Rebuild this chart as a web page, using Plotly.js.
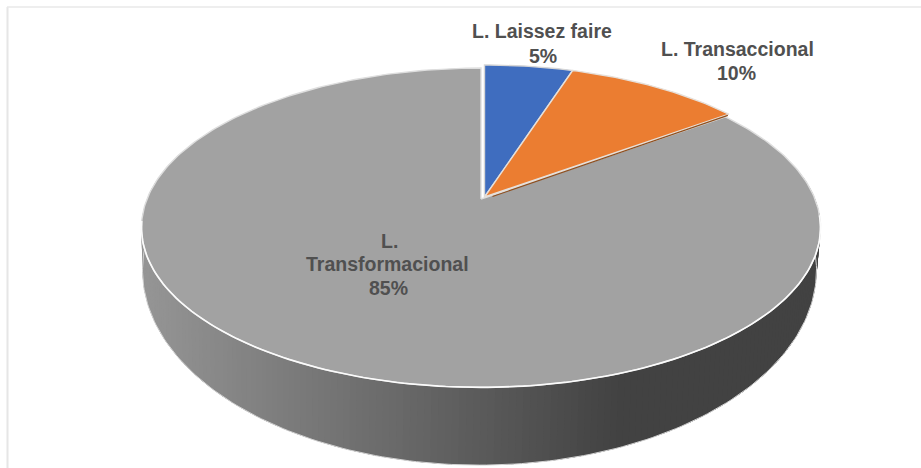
<!DOCTYPE html>
<html>
<head>
<meta charset="utf-8">
<script src="https://cdn.plot.ly/plotly-3.0.1.min.js"></script>
<style>html,body{margin:0;padding:0;background:#fff}#chart{width:921px;height:468px}</style>
</head>
<body>
<div id="chart"></div>
<script>
// Leadership styles, share of responses (%), clockwise from 12 o'clock
const styles = ['L. Laissez faire', 'L. Transaccional', 'L. Transformacional'];
const shares = [5, 10, 85];
const sliceColors = ['#3f6dbf', '#eb7d31', '#a2a2a2'];
const sliceOutlines = ['#d6d6d6', '#e6e0da', '#dedede'];

// Label rows and where they sit
const labelRows = ['L. Laissez faire', '5%', 'L. Transaccional', '10%', 'L.', 'Transformacional', '85%'];
const labelX = [542, 543, 737, 736, 389, 387, 388];
const labelY = [31, 56, 49, 73, 241, 264, 288];

// Shading of the rim, left to right
const rimStopX = [141, 300, 400, 520, 620, 820];
const rimStopGrey = [150, 122, 105, 84, 66, 66];

// Perspective projection of the disc; the small slices sit slightly apart from the large one
const smallFace = {cx: 484.5, cy: 197, rx: 334, ry: 155.8};
const largeFace = {cx: 481, cy: 199, rx: 334, ry: 154.5};
const bottomFace = {cx: 479.5, cy: 235, rx: 331.5, ry: 188.7};
const tilt = 0.18;

function project(face, deg) {
  const a = deg * Math.PI / 180, u = Math.sin(a), v = Math.cos(a);
  const d = 1 + tilt * v;
  return [face.cx + face.rx * u / d, face.cy - face.ry * v / d];
}

function rimGrey(x) {
  for (let i = 1; i < rimStopX.length; i++) {
    if (x <= rimStopX[i]) {
      const t = (x - rimStopX[i - 1]) / (rimStopX[i] - rimStopX[i - 1]);
      return rimStopGrey[i - 1] + t * (rimStopGrey[i] - rimStopGrey[i - 1]);
    }
  }
  return rimStopGrey[rimStopGrey.length - 1];
}

const traces = [];
function poly(xs, ys, fill, lineColor, lineWidth) {
  traces.push({
    type: 'scatter', mode: 'lines', x: xs, y: ys, fill: 'toself', fillcolor: fill,
    line: {color: lineColor, width: lineWidth}, hoverinfo: 'skip', showlegend: false
  });
}
function stroke(xs, ys, color, width) {
  traces.push({type: 'scatter', mode: 'lines', x: xs, y: ys,
    line: {color, width}, hoverinfo: 'skip', showlegend: false});
}
function arc(face, from, to) {
  const xs = [], ys = [];
  for (let deg = from; deg <= to + 0.001; deg += 1) {
    const p = project(face, deg);
    xs.push(p[0]); ys.push(p[1]);
  }
  return [xs, ys];
}

// Rim: overlapping bands, painted right to left so no seams show
const rimStep = 1;
for (let deg = 80; deg < 280; deg += rimStep) {
  const a = project(largeFace, deg), b = project(largeFace, deg + rimStep * 2.5);
  const c = project(bottomFace, deg + rimStep * 2.5), e = project(bottomFace, deg);
  const g = rimGrey((a[0] + e[0]) / 2);
  const col = `rgb(${g.toFixed(1)},${g.toFixed(1)},${g.toFixed(1)})`;
  poly([a[0], b[0], c[0], e[0], a[0]], [a[1], b[1], c[1], e[1], a[1]], col, col, 0);
}

// Pale edge along the lower outline of the rim
const [edgeX, edgeY] = arc(bottomFace, 80, 282);
stroke(edgeX, edgeY, '#d4d4d4', 1);

// Top face slices, largest drawn first
const total = shares.reduce((s, v) => s + v, 0);
let startDeg = 0;
const slices = shares.map((v, i) => {
  const s = {i, from: startDeg, to: startDeg + 360 * v / total};
  startDeg = s.to;
  return s;
});

[2, 0, 1].forEach(idx => {
  const s = slices[idx];
  const face = idx === 2 ? largeFace : smallFace;
  const [ax, ay] = arc(face, s.from, s.to);
  const end = project(face, s.to);
  const xs = [face.cx, ...ax, end[0], face.cx];
  const ys = [face.cy, ...ay, end[1], face.cy];
  poly(xs, ys, sliceColors[idx], sliceOutlines[idx], 1.4);
});

// Cut face of the orange slice, seen in the gap beside the large slice
const cutEnd = project(smallFace, slices[1].to);
stroke([smallFace.cx + 8, cutEnd[0] - 1], [smallFace.cy - 0.5, cutEnd[1] + 1.2], '#8f4f1e', 1.1);

// Bright edge where the large slice meets the rim
const [frontX, frontY] = arc(largeFace, 96, 262);
stroke(frontX, frontY, '#fbfbfb', 1.6);

const annotations = labelRows.map((t, i) => ({
  x: labelX[i], y: labelY[i], xref: 'x', yref: 'y', text: t, showarrow: false,
  xanchor: 'center', yanchor: 'middle',
  font: {family: '"Liberation Sans", Arial, sans-serif', size: 19.5, weight: 700, color: '#505050'}
}));

const layout = {
  width: 921, height: 468,
  margin: {l: 0, r: 0, t: 0, b: 0},
  paper_bgcolor: '#ffffff', plot_bgcolor: '#ffffff',
  showlegend: false,
  xaxis: {range: [0, 921], visible: false, fixedrange: true},
  yaxis: {range: [468, 0], visible: false, fixedrange: true},
  annotations,
  shapes: [
    {type: 'line', xref: 'x', yref: 'y', x0: 7.5, x1: 7.5, y0: 7, y1: 468, line: {color: '#e6e6e6', width: 2}},
    {type: 'line', xref: 'x', yref: 'y', x0: 7, x1: 921, y0: 7, y1: 7, line: {color: '#e8e8e8', width: 1.5}}
  ]
};

Plotly.newPlot('chart', traces, layout, {displayModeBar: false, staticPlot: true});
</script>
</body>
</html>
